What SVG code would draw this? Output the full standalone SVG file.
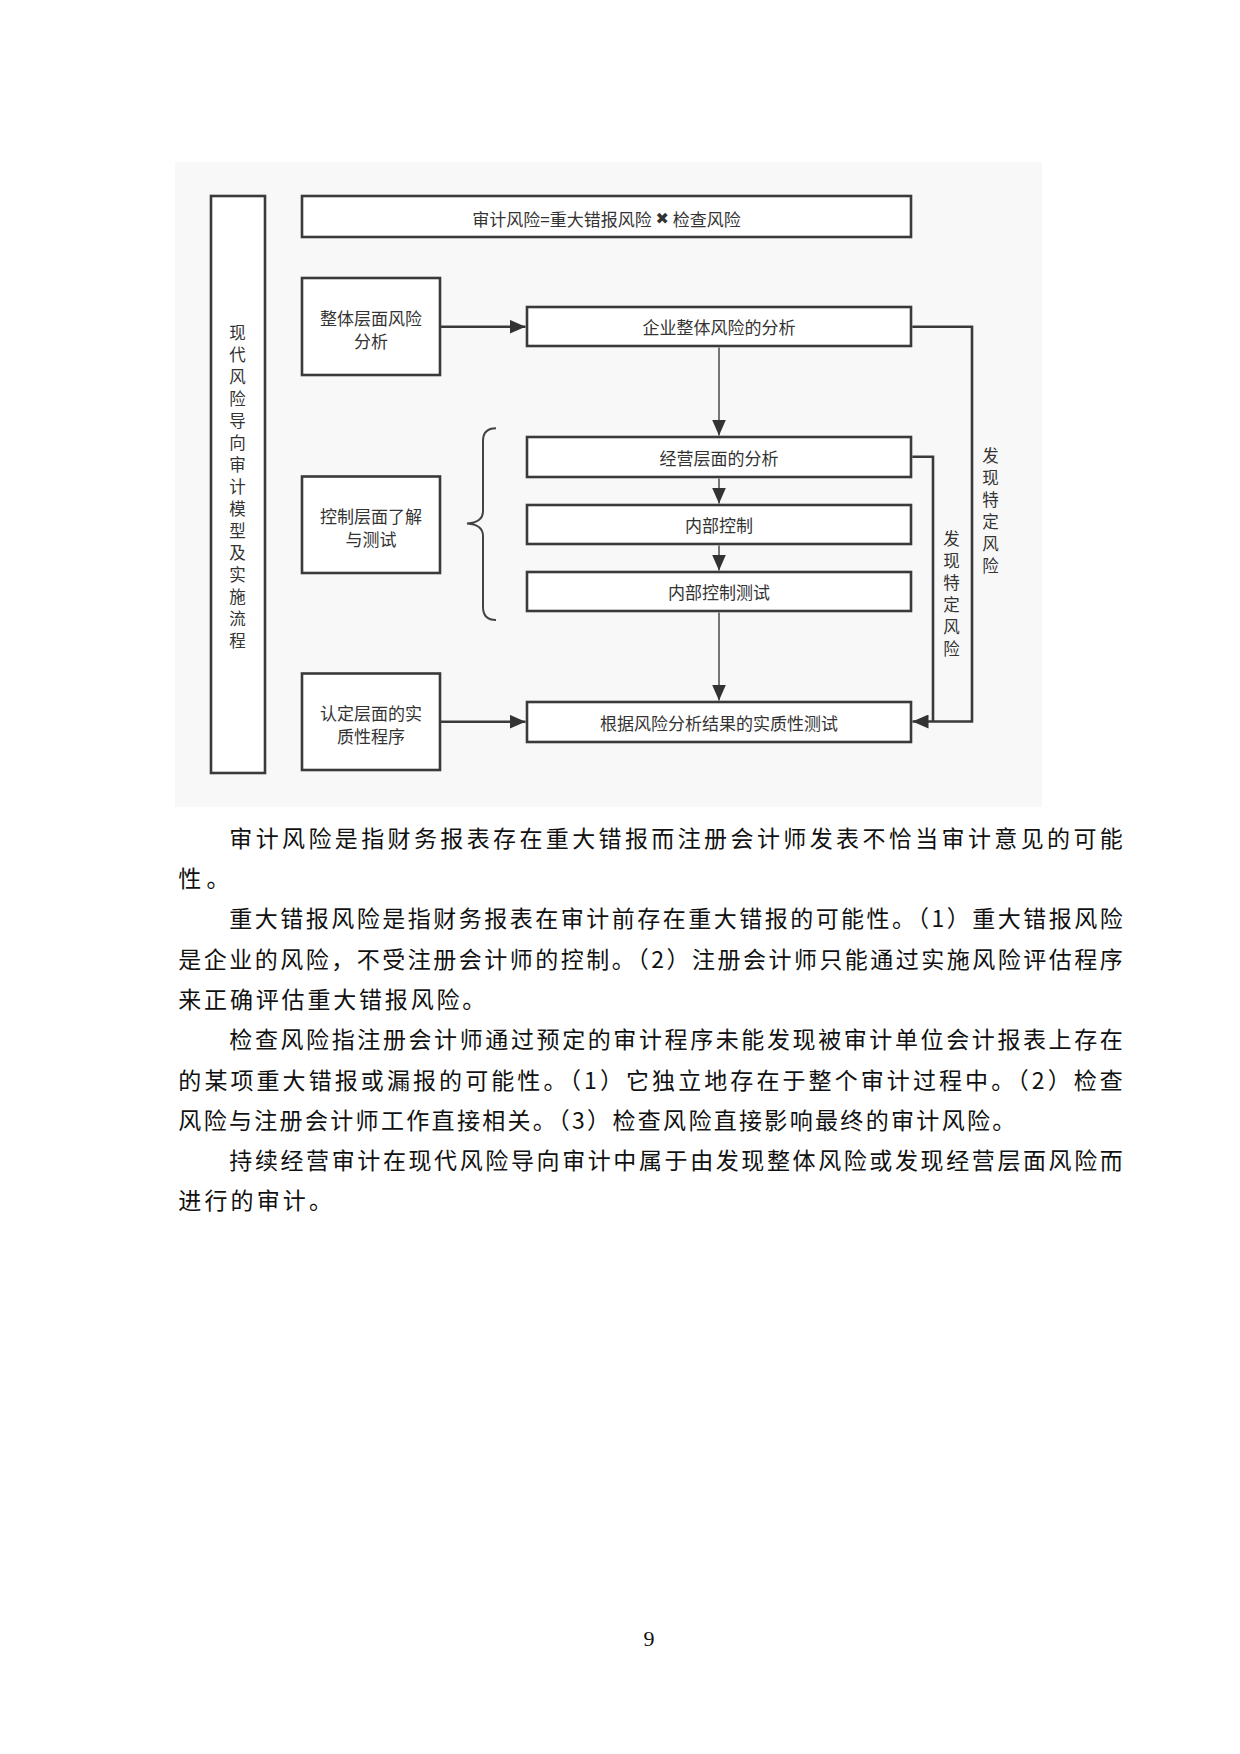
<svg xmlns="http://www.w3.org/2000/svg" width="1240" height="1754" viewBox="0 0 1240 1754">
<defs>
<marker id="arr" markerUnits="userSpaceOnUse" markerWidth="17" markerHeight="14" refX="16" refY="7" orient="auto">
<path d="M0,0 L16,7 L0,14 z" fill="#333"/>
</marker>
<style>
.box{fill:#fff;stroke:#3a3a3a;stroke-width:2.6}
.dt{font-family:"Noto Sans CJK SC","Noto Sans",sans-serif;font-size:17px;fill:#333;text-anchor:middle;dominant-baseline:central}
.vt{font-family:"Noto Sans CJK SC","Noto Sans",sans-serif;font-size:16.5px;fill:#333;text-anchor:middle;dominant-baseline:central}
.ln{fill:none;stroke:#3a3a3a;stroke-width:2.6}
.lv{fill:none;stroke:#555;stroke-width:1.6}
.body{font-family:"Noto Sans CJK SC","Noto Sans",sans-serif;font-size:23px;fill:#111;dominant-baseline:central}
</style>
</defs>
<rect width="1240" height="1754" fill="#fff"/>
<rect id="panel" x="175" y="162" width="867" height="645" fill="#f8f8f8"/>

<g id="title-side">
<rect class="box" x="211" y="196" width="54" height="577"/>
<text class="vt"><tspan x="237.5" y="331.7">现</tspan><tspan x="237.5" y="353.7">代</tspan><tspan x="237.5" y="375.7">风</tspan><tspan x="237.5" y="397.7">险</tspan><tspan x="237.5" y="419.7">导</tspan><tspan x="237.5" y="441.7">向</tspan><tspan x="237.5" y="463.7">审</tspan><tspan x="237.5" y="485.7">计</tspan><tspan x="237.5" y="507.7">模</tspan><tspan x="237.5" y="529.7">型</tspan><tspan x="237.5" y="551.7">及</tspan><tspan x="237.5" y="573.7">实</tspan><tspan x="237.5" y="595.7">施</tspan><tspan x="237.5" y="617.7">流</tspan><tspan x="237.5" y="639.7">程</tspan></text>
</g>

<g id="formula">
<rect class="box" x="302" y="196" width="609" height="41"/>
<text class="dt" x="606.5" y="218">审计风险=重大错报风险 <tspan font-family="'DejaVu Sans',sans-serif" font-size="16">✖</tspan> 检查风险</text>
</g>

<g id="overall-level">
<rect class="box" x="302" y="278" width="138" height="97"/>
<text class="dt" x="371" y="317">整体层面风险</text>
<text class="dt" x="371" y="340">分析</text>
</g>

<g id="enterprise-analysis">
<rect class="box" x="527" y="307" width="384" height="39"/>
<text class="dt" x="719" y="326.5">企业整体风险的分析</text>
</g>

<g id="control-level">
<rect class="box" x="302" y="476.5" width="138" height="96.5"/>
<text class="dt" x="371" y="515.5">控制层面了解</text>
<text class="dt" x="371" y="538">与测试</text>
</g>

<g id="operation-analysis">
<rect class="box" x="527" y="437" width="384" height="40"/>
<text class="dt" x="719" y="457">经营层面的分析</text>
</g>

<g id="internal-control">
<rect class="box" x="527" y="505" width="384" height="39"/>
<text class="dt" x="719" y="524.5">内部控制</text>
</g>

<g id="internal-control-test">
<rect class="box" x="527" y="572" width="384" height="39"/>
<text class="dt" x="719" y="591.5">内部控制测试</text>
</g>

<g id="assertion-level">
<rect class="box" x="302" y="673.5" width="138" height="96.5"/>
<text class="dt" x="371" y="712.5">认定层面的实</text>
<text class="dt" x="371" y="735.5">质性程序</text>
</g>

<g id="substantive-test">
<rect class="box" x="527" y="702" width="384" height="40"/>
<text class="dt" x="719" y="722">根据风险分析结果的实质性测试</text>
</g>

<g id="connectors">
<path class="ln" d="M441,326.7 H525.5" marker-end="url(#arr)"/>
<path class="lv" d="M719,347.5 V435.5" marker-end="url(#arr)"/>
<path class="lv" d="M719,478.5 V503.5" marker-end="url(#arr)"/>
<path class="lv" d="M719,545.5 V570.5" marker-end="url(#arr)"/>
<path class="lv" d="M719,612.5 V700.5" marker-end="url(#arr)"/>
<path class="ln" d="M441,721.7 H525.5" marker-end="url(#arr)"/>
<path class="ln" d="M912.3,326.7 H972 V721.5 H912.5" marker-end="url(#arr)"/>
<path class="ln" d="M912.3,456.7 H933 V721.5"/>
<path fill="none" stroke="#444" stroke-width="2" d="M496,428.3 Q483,428.3 483,441 L483,511 Q483,522.5 467,523.5 Q483,524.5 483,536 L483,607 Q483,620 496,620"/>
<text class="vt"><tspan x="951.5" y="538.3">发</tspan><tspan x="951.5" y="560.3">现</tspan><tspan x="951.5" y="582.3">特</tspan><tspan x="951.5" y="604.3">定</tspan><tspan x="951.5" y="626.3">风</tspan><tspan x="951.5" y="648.3">险</tspan></text>
<text class="vt"><tspan x="990.5" y="455">发</tspan><tspan x="990.5" y="477">现</tspan><tspan x="990.5" y="499">特</tspan><tspan x="990.5" y="521">定</tspan><tspan x="990.5" y="543">风</tspan><tspan x="990.5" y="565">险</tspan></text>
</g>

<g id="body-text">
<text class="body" x="229.3" y="836.7" textLength="893.5" lengthAdjust="spacing">审计风险是指财务报表存在重大错报而注册会计师发表不恰当审计意见的可能</text>
<text class="body" x="178.3" y="877" textLength="51.2" lengthAdjust="spacing">性。</text>
<text class="body" x="229.3" y="917.3" textLength="893.5" lengthAdjust="spacing">重大错报风险是指财务报表在审计前存在重大错报的可能性。（1）重大错报风险</text>
<text class="body" x="178.3" y="957.6" textLength="944.5" lengthAdjust="spacing">是企业的风险，不受注册会计师的控制。（2）注册会计师只能通过实施风险评估程序</text>
<text class="body" x="178.3" y="997.9" textLength="307" lengthAdjust="spacing">来正确评估重大错报风险。</text>
<text class="body" x="229.3" y="1038.2" textLength="893.5" lengthAdjust="spacing">检查风险指注册会计师通过预定的审计程序未能发现被审计单位会计报表上存在</text>
<text class="body" x="178.3" y="1078.5" textLength="944.5" lengthAdjust="spacing">的某项重大错报或漏报的可能性。（1）它独立地存在于整个审计过程中。（2）检查</text>
<text class="body" x="178.3" y="1118.8" textLength="837" lengthAdjust="spacing">风险与注册会计师工作直接相关。（3）检查风险直接影响最终的审计风险。</text>
<text class="body" x="229.3" y="1159.1" textLength="893.5" lengthAdjust="spacing">持续经营审计在现代风险导向审计中属于由发现整体风险或发现经营层面风险而</text>
<text class="body" x="178.3" y="1199.4" textLength="153.6" lengthAdjust="spacing">进行的审计。</text>
</g>

<text x="649" y="1645.5" font-family="'Liberation Serif',serif" font-size="22" fill="#111" text-anchor="middle">9</text>
</svg>
